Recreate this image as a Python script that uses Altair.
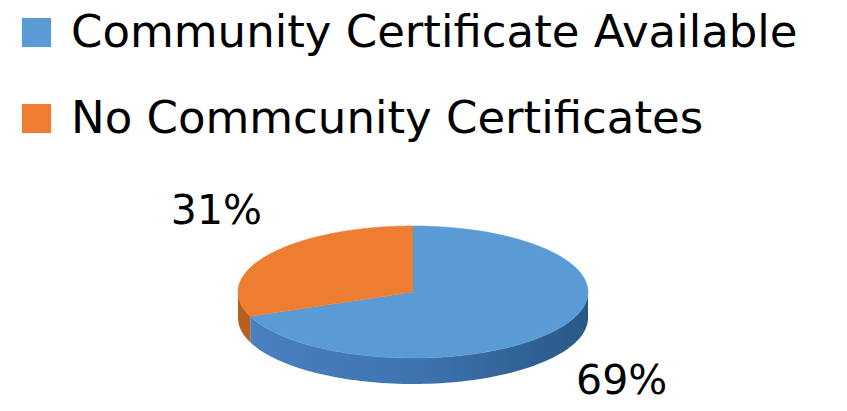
import altair as alt
import pandas as pd

categories = ["Community Certificate Available", "No Commcunity Certificates"]
values = [69, 31]
order = [0, 1]
top_colors = ["#5B9BD5", "#ED7D31"]

df = pd.DataFrame({"category": categories, "value": values, "order": order})

# layout (pixel units of the picture)
CX, CY, RX, RY, TH = 413, 292, 175, 66, 26
LCX, LRX, LRY, LOFF = 419, 245, 142, 10
N = 90
FONT = "DejaVu Sans"

xs = alt.Scale(domain=[8, 839])
ys = alt.Scale(domain=[8, 403], reverse=True)

base = alt.Chart(df).transform_joinaggregate(
    total="sum(value)"
).transform_window(
    cum="sum(value)", sort=[alt.SortField("order", order="ascending")], frame=[None, 0]
).transform_calculate(
    a0="2*PI*(datum.cum - datum.value)/datum.total",
    a1="2*PI*datum.cum/datum.total",
)

enc = dict(
    x=alt.X("px:Q", scale=xs, axis=None),
    y=alt.Y("py:Q", scale=ys, axis=None),
    order=alt.Order("steps:Q"),
)

side = base.transform_calculate(
    s0="max(datum.a0, PI/2)", s1="min(datum.a1, 3*PI/2)"
).transform_filter("datum.s1 > datum.s0").transform_calculate(
    steps=f"sequence(0, {2 * N + 2})"
).transform_flatten(["steps"]).transform_calculate(
    k=f"datum.steps <= {N} ? datum.steps : {2 * N + 1} - datum.steps",
    bottom=f"datum.steps > {N} ? 1 : 0",
).transform_calculate(
    th=f"datum.s0 + (datum.s1 - datum.s0) * datum.k / {N}",
).transform_calculate(
    px=f"{CX} + {RX} * sin(datum.th)",
    py=f"{CY} - {RY} * cos(datum.th) + datum.bottom * {TH}",
)

side_blue = side.transform_filter(
    alt.datum.category == categories[0]
).mark_line(
    fill=alt.LinearGradient(
        gradient="linear",
        stops=[
            alt.GradientStop(color="#4A80C0", offset=0),
            alt.GradientStop(color="#3E73B0", offset=0.5),
            alt.GradientStop(color="#2A5886", offset=1),
        ],
        x1=0, x2=1, y1=0, y2=0,
    ),
    strokeWidth=0,
).encode(**enc)

side_orange = side.transform_filter(
    alt.datum.category == categories[1]
).mark_line(fill="#B5601F", strokeWidth=0).encode(**enc)

top = base.transform_calculate(
    steps=f"sequence(0, {N + 2})"
).transform_flatten(["steps"]).transform_calculate(
    th=f"datum.a0 + (datum.a1 - datum.a0) * (datum.steps - 1) / {N}",
).transform_calculate(
    px=f"datum.steps == 0 ? {CX} : {CX} + {RX} * sin(datum.th)",
    py=f"datum.steps == 0 ? {CY} : {CY} - {RY} * cos(datum.th)",
).mark_line(strokeWidth=0.6).encode(
    fill=alt.Fill(
        "category:N",
        scale=alt.Scale(domain=categories, range=top_colors),
        legend=alt.Legend(
            title=None, orient="none", legendX=6, legendY=2,
            symbolType="square", symbolSize=850, symbolStrokeWidth=0,
            labelFontSize=45, labelFont=FONT, labelColor="black",
            labelOffset=12, rowPadding=40, labelLimit=1000,
        ),
    ),
    stroke=alt.Stroke("category:N", scale=alt.Scale(domain=categories, range=top_colors), legend=None),
    detail="category:N",
    **enc,
)

labels = base.transform_calculate(
    mid="(datum.a0 + datum.a1) / 2",
).transform_calculate(
    px=f"{LCX} + {LRX} * sin(datum.mid)",
    py=f"{CY} - {LRY} * cos(datum.mid) + (cos(datum.mid) < 0 ? {LOFF} : 0)",
    lab="datum.value + '%'",
).mark_text(font=FONT, fontSize=41, color="black").encode(
    x=alt.X("px:Q", scale=xs, axis=None),
    y=alt.Y("py:Q", scale=ys, axis=None),
    text="lab:N",
)

chart = alt.layer(side_blue, side_orange, top, labels).properties(
    width=831, height=395, padding=0, autosize="none"
).configure_view(stroke=None)

chart.save("out.html", embed_options={"renderer": "svg", "actions": False})
